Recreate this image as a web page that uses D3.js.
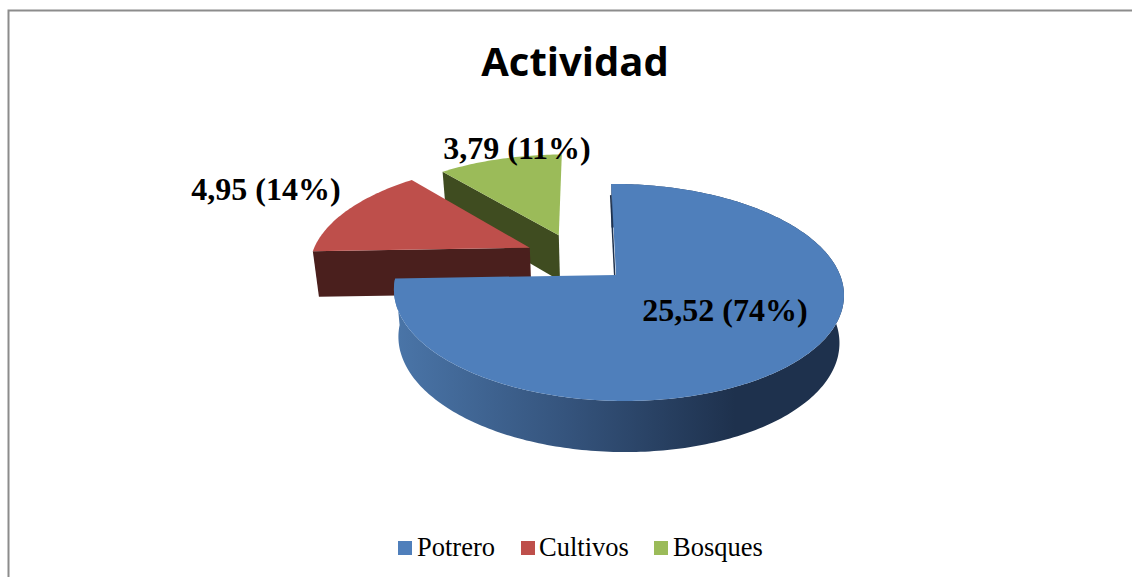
<!DOCTYPE html>
<html><head><meta charset="utf-8">
<script src="https://cdnjs.cloudflare.com/ajax/libs/d3/7.8.5/d3.min.js"></script>
<style>html,body{margin:0;padding:0;background:#fff;overflow:hidden}svg{display:block}</style>
</head><body><svg id="c" width="1132" height="577"></svg>
<script>
const categories = ["Potrero", "Cultivos", "Bosques"];
const values = [25.52, 4.95, 3.79];
const percents = [74, 14, 11];
const topColors = ["#4F7FBB", "#BE4F4B", "#9BBB59"];
const wallColors = ["url(#blueWall)", "#4A1F1D", "#3F4C20"];
const fmt = v => String(v).replace(".", ",");

const svg = d3.select("#c");
const W = 1132, H = 577;

// frame
svg.append("path").attr("d", `M${W},10.5H8.5V${H}`).attr("fill", "none").attr("stroke", "#8c8c8c").attr("stroke-width", 2);

// title
svg.append("text").attr("x", 575).attr("y", 76).attr("text-anchor", "middle")
  .attr("font-family", "'Open Sans'").attr("font-weight", 700).attr("font-size", 40).attr("fill", "#000").text("Actividad");

// gradient for the blue rim
const grad = svg.append("defs").append("linearGradient").attr("id", "blueWall")
  .attr("gradientUnits", "userSpaceOnUse").attr("x1", 395).attr("x2", 735).attr("y1", 0).attr("y2", 0);
[[0, "#4A75A8"], [0.5, "#35547D"], [1, "#1E314D"]].forEach(s => grad.append("stop").attr("offset", s[0]).attr("stop-color", s[1]));

// 3D projection of the pie plane
const ox = 616, oy = 275, R = 222, S = 105.7, k = 0.161, m = 0.009, shear = 5.5;
const depth = 46.8, vanishX = 618, shrink = 0.98;
function project(u, v, h) {
  const w = 1 / (1 - k * v - m * u);
  let x = ox + R * u * w + shear * v * w;
  let y = oy + S * v * w;
  if (h) { x = vanishX + (x - vanishX) * shrink; y += depth * Math.sqrt(w); }
  return [x, y];
}
const pie = d3.pie().sort(null).value(d => d);
const arcs = pie(values);
// slice offsets (explosion) and radii in plane units
const offsets = [[0, 0], [-0.40, -0.27], [-0.265, -0.40]];
const radii = [1, 1.03, 1];
const line = d3.line();
const STEP = Math.PI / 180;

function rimAngles(a) { return d3.range(a.startAngle, a.endAngle, STEP).concat(a.endAngle); }
function pt(i, ang, r) {
  return [offsets[i][0] + r * Math.sin(ang), offsets[i][1] - r * Math.cos(ang)];
}
const order = [2, 1, 0];
order.forEach(i => {
  const a = arcs[i], r = radii[i];
  const g = svg.append("g").attr("class", "slice");
  const angs = rimAngles(a);
  const rim = angs.map(t => pt(i, t, r));
  const apex = offsets[i];
  const P = (p, h) => project(p[0], p[1], h);
  const fill = wallColors[i];
  if (i !== 0) {
    // visible cut face (start of the slice)
    g.append("path").attr("d", line([P(apex, 0), P(rim[0], 0), P(rim[0], 1), P(apex, 1)]) + "Z").attr("fill", fill);
  } else {
    // outer wall
    const wall = rim.map(p => P(p, 0)).concat(rim.slice().reverse().map(p => P(p, 1)));
    g.append("path").attr("d", line(wall) + "Z").attr("fill", fill);
    // inner dark edge of the large slice
    g.append("path").attr("d", line([P([apex[0] - 0.006, apex[1]], 0), P([apex[0] - 0.006, apex[1] - 0.86], 0)]))
      .attr("stroke", "#1E314D").attr("stroke-width", 1.5).attr("fill", "none");
  }
  // top
  const top = [P(apex, 0)].concat(rim.map(p => P(p, 0)));
  g.append("path").attr("d", line(top) + "Z").attr("fill", topColors[i]);
});

// data labels
const labelPos = [[725, 321], [266, 200], [517, 159]];
values.forEach((v, i) => {
  svg.append("text").attr("x", labelPos[i][0]).attr("y", labelPos[i][1]).attr("text-anchor", "middle")
    .attr("font-family", "'Liberation Serif'").attr("font-weight", 700).attr("font-size", 32).attr("fill", "#000")
    .text(`${fmt(v)} (${percents[i]}%)`);
});

// legend
const legendX = [398, 521, 654];
const legendTextX = [417, 539, 673];
categories.forEach((c, i) => {
  svg.append("rect").attr("x", legendX[i]).attr("y", 541).attr("width", 14).attr("height", 14).attr("fill", topColors[i]);
  svg.append("text").attr("x", legendTextX[i]).attr("y", 556)
    .attr("font-family", "'Liberation Serif'").attr("font-size", 26.5).attr("fill", "#000").text(c);
});
</script></body></html>
